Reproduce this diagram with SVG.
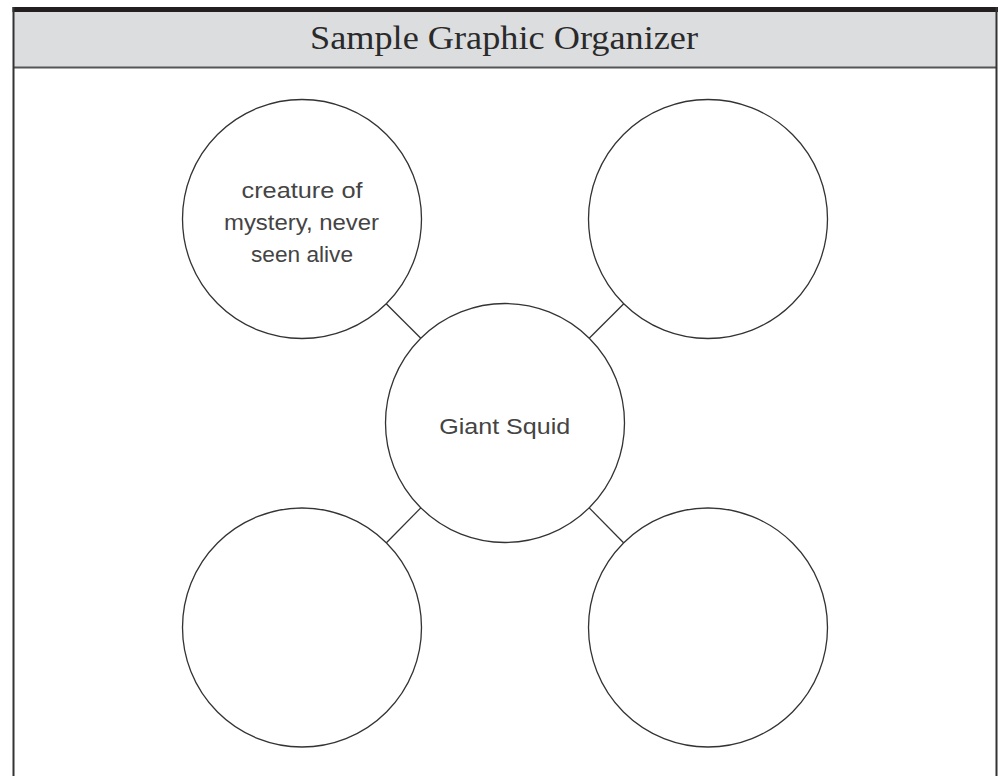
<svg xmlns="http://www.w3.org/2000/svg" width="998" height="776" viewBox="0 0 998 776">
<style>
.node{fill:#fff;stroke:#333;stroke-width:1.3}
.conn{stroke:#333;stroke-width:1.3;fill:none}
.hand{font-family:"Liberation Sans","DejaVu Sans",sans-serif;font-size:22px;fill:#444;text-anchor:middle}
.title{font-family:"Liberation Serif","DejaVu Serif",serif;font-size:34px;fill:#2a2a2a;text-anchor:middle}
</style>
<rect x="0" y="0" width="998" height="776" fill="#fff"/>
<g id="frame">
<rect x="13" y="12" width="984" height="55.5" fill="#dcdddf"/>
<rect x="12.5" y="7" width="985.5" height="5" fill="#231f20"/>
<line x1="13" y1="67.5" x2="997" y2="67.5" stroke="#555" stroke-width="2"/>
<line x1="13.5" y1="7" x2="13.5" y2="776" stroke="#333" stroke-width="2"/>
<line x1="996.5" y1="7" x2="996.5" y2="776" stroke="#333" stroke-width="2"/>
<text class="title" x="504" y="49.3" textLength="388" lengthAdjust="spacingAndGlyphs">Sample Graphic Organizer</text>
</g>
<g id="connectors">
<line class="conn" x1="386.2" y1="303.7" x2="420.8" y2="338.3"/>
<line class="conn" x1="623.8" y1="303.7" x2="589.2" y2="338.3"/>
<line class="conn" x1="420.8" y1="507.9" x2="386.2" y2="543"/>
<line class="conn" x1="589.2" y1="507.9" x2="623.8" y2="543"/>
</g>
<g id="node-top-left">
<circle class="node" cx="302" cy="219" r="119.5"/>
<text class="hand" x="302" y="198.3" textLength="121" lengthAdjust="spacingAndGlyphs">creature of</text>
<text class="hand" x="301.5" y="230" textLength="155" lengthAdjust="spacingAndGlyphs">mystery, never</text>
<text class="hand" x="302" y="261.7" textLength="102" lengthAdjust="spacingAndGlyphs">seen alive</text>
</g>
<g id="node-top-right">
<circle class="node" cx="708" cy="219" r="119.5"/>
</g>
<g id="node-center">
<circle class="node" cx="505" cy="423" r="119.5"/>
<text class="hand" x="504.7" y="434" textLength="131" lengthAdjust="spacingAndGlyphs">Giant Squid</text>
</g>
<g id="node-bottom-left">
<circle class="node" cx="302" cy="627.5" r="119.5"/>
</g>
<g id="node-bottom-right">
<circle class="node" cx="708" cy="627.5" r="119.5"/>
</g>
</svg>
